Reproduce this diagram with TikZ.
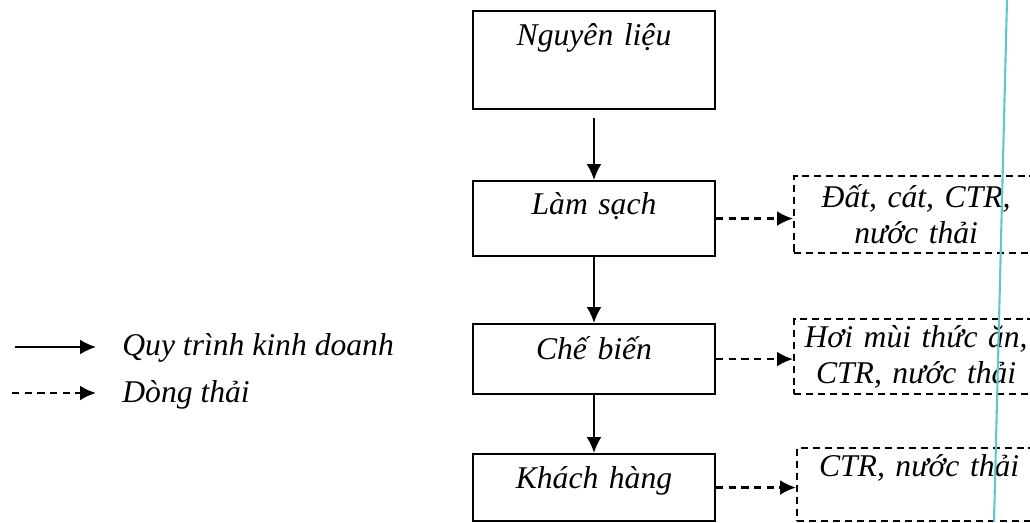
\documentclass[tikz,border=0pt]{standalone}
\usepackage{fontspec}
\setmainfont{Liberation Serif}
\usetikzlibrary{arrows.meta}
\definecolor{scanline}{RGB}{95,200,205}

\begin{document}
\begin{tikzpicture}[font=\itshape\fontsize{18}{20.5}\selectfont,
  stage/.style={draw,line width=1.2pt,inner sep=0pt,text width=4.84cm,align=center,anchor=north},
  waste/.style={draw,line width=1.3pt,dash pattern=on 4pt off 2.8pt,inner sep=0pt,text width=4.88cm,align=center,anchor=north west},
  flow/.style={line width=1.2pt,-{Latex[length=3.2mm,width=3mm]}},
  wasteflow/.style={line width=1.4pt,dash pattern=on 4.2pt off 3pt,-{Latex[length=3.2mm,width=3mm]}}]
\useasboundingbox (0,0) rectangle (20.6,-10.44);
\clip (0,0) rectangle (20.6,-10.44);
\node[stage,text height=0.68cm,text depth=1.28cm] (nguyen) at (11.88,-0.2) {Nguyên liệu};
\node[stage,text height=0.66cm,text depth=0.84cm] (lamsach) at (11.88,-3.6) {Làm sạch};
\node[stage,text height=0.70cm,text depth=0.70cm] (chebien) at (11.88,-6.46) {Chế biến};
\node[stage,text height=0.68cm,text depth=0.66cm] (khach) at (11.88,-9.06) {Khách hàng};
\node[waste,minimum height=1.54cm] (dat) at (15.86,-3.5) {Đất, cát, CTR,\\nước thải};
\node[waste,minimum height=1.5cm] (hoi) at (15.86,-6.36) {Hơi mùi thức ăn,\\CTR, nước thải};
\node[waste,text height=0.56cm,text depth=0.9cm] (ctr) at (15.92,-8.94) {CTR, nước thải};
\path[draw,flow,shorten <=0.16cm](nguyen) -- (lamsach);
\path[draw,flow](lamsach) -- (chebien);
\path[draw,flow](chebien) -- (khach);
\path[draw,wasteflow](lamsach.east) -- (lamsach.east -| dat.west);
\path[draw,wasteflow](chebien.east) -- (chebien.east -| hoi.west);
\path[draw,wasteflow](khach.east) -- (khach.east -| ctr.west);
% legend
\coordinate (s1) at (0.3,-6.94);
\coordinate (s2) at (0.24,-7.86);
\node[anchor=base west,inner sep=0pt] (quy) at (2.44,-7.1) {Quy trình kinh doanh};
\node[anchor=base west,inner sep=0pt] (dong) at (2.44,-8.04) {Dòng thải};
\path[draw,flow](s1) -- (s1 -| 1.92,0);
\path[draw,wasteflow](s2) -- (s2 -| 1.92,0);
% scan margin
\draw[scanline,line width=1.2pt] (20.14,0) -- (19.88,-10.44);
\end{tikzpicture}
\end{document}
